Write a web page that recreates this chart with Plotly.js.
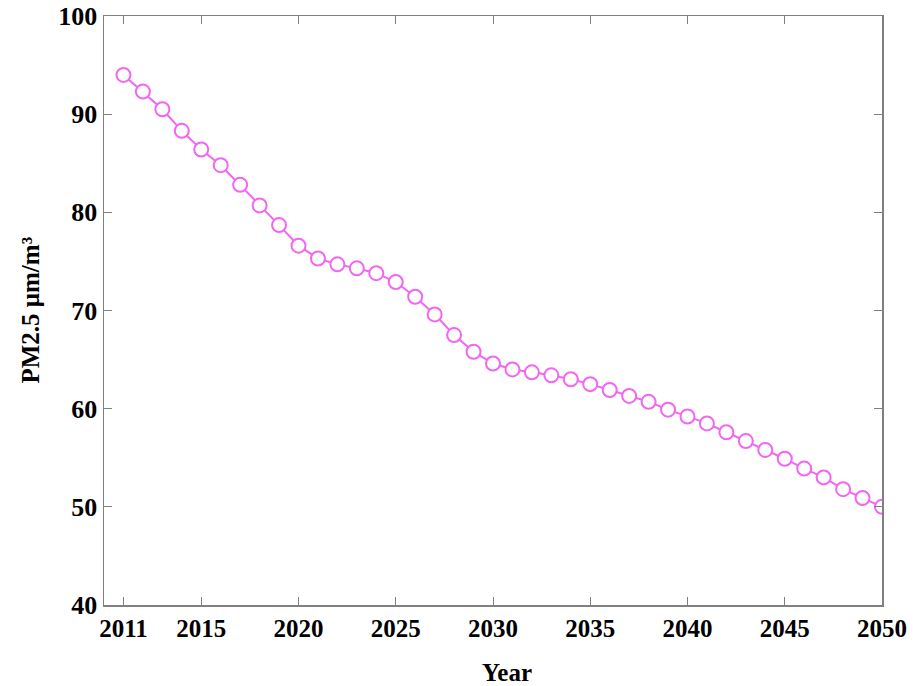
<!DOCTYPE html>
<html>
<head>
<meta charset="utf-8">
<script src="https://cdn.plot.ly/plotly-3.0.1.min.js"></script>
<style>html,body{margin:0;padding:0;background:#fff;}#chart{width:913px;height:686px;}</style>
</head>
<body>
<div id="chart"></div>
<script>
const years = [2011,2012,2013,2014,2015,2016,2017,2018,2019,2020,
  2021,2022,2023,2024,2025,2026,2027,2028,2029,2030,
  2031,2032,2033,2034,2035,2036,2037,2038,2039,2040,
  2041,2042,2043,2044,2045,2046,2047,2048,2049,2050];
const pm25 = [94.0,92.3,90.5,88.3,86.4,84.8,82.8,80.7,78.7,76.6,
  75.3,74.7,74.3,73.8,72.9,71.4,69.6,67.5,65.8,64.6,
  64.0,63.7,63.4,63.0,62.5,61.9,61.3,60.7,59.9,59.2,
  58.5,57.6,56.7,55.8,54.9,53.9,53.0,51.8,50.9,50.0];
const xTicks = [2011,2015,2020,2025,2030,2035,2040,2045,2050];
const yTicks = [40,50,60,70,80,90,100];

const font = 'Liberation Serif, Times New Roman, serif';
const trace = {
  x: years, y: pm25, type: 'scatter', mode: 'lines+markers',
  line: {color: '#F266F2', width: 2},
  marker: {symbol: 'circle', size: 14, color: '#ffffff', line: {color: '#F266F2', width: 2}},
  hoverinfo: 'x+y'
};
const layout = {
  width: 913, height: 686,
  margin: {l: 104, r: 31, t: 16, b: 81},
  paper_bgcolor: '#fff', plot_bgcolor: '#fff',
  showlegend: false,
  xaxis: {
    range: [2010, 2050], tickvals: xTicks, ticktext: xTicks.map(String),
    ticks: 'inside', ticklen: 8, tickwidth: 1, tickcolor: '#808080',
    showline: true, linecolor: '#808080', linewidth: 1.5, mirror: 'ticks',
    showgrid: false, zeroline: false,
    tickfont: {family: font, size: 25, color: '#000', weight: 'bold'},
    ticklabelstandoff: 0
  },
  yaxis: {
    range: [40, 100], tickvals: yTicks,
    ticks: 'inside', ticklen: 8, tickwidth: 1, tickcolor: '#808080',
    showline: true, linecolor: '#808080', linewidth: 1.5, mirror: 'ticks',
    showgrid: false, zeroline: false,
    tickfont: {family: font, size: 26, color: '#000', weight: 'bold'},
    ticklabelstandoff: 0
  },
  annotations: [
    {text: '<b>Year</b>', xref: 'paper', yref: 'paper', x: 0.5185, y: 0, yshift: -67,
     xanchor: 'center', yanchor: 'middle', showarrow: false,
     font: {family: font, size: 25, color: '#000'}},
    {text: '<b>PM2.5 μm/m³</b>', xref: 'paper', yref: 'paper', x: 0, xshift: -74, y: 0.5,
     xanchor: 'center', yanchor: 'middle', textangle: -90, showarrow: false,
     font: {family: font, size: 25, color: '#000'}}
  ]
};
Plotly.newPlot('chart', [trace], layout, {displayModeBar: false, staticPlot: true});
</script>
</body>
</html>
